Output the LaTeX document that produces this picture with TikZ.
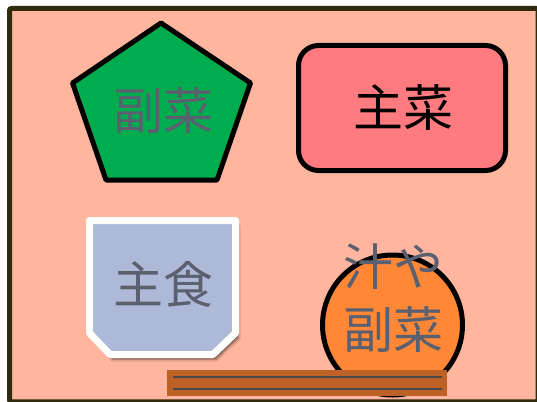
\documentclass[tikz,border=0pt]{standalone}
\usepackage{fontspec}
\newfontfamily\cjk{Noto Sans CJK JP}
\usetikzlibrary{shadows.blur}
\definecolor{bgfill}{HTML}{FFB59E}
\definecolor{framec}{HTML}{2F2B0C}
\definecolor{greenc}{HTML}{00AD4E}
\definecolor{redc}{HTML}{FF7B7F}
\definecolor{shieldc}{HTML}{ADB9D6}
\definecolor{orangec}{HTML}{FF8735}
\definecolor{barc}{HTML}{BD6127}
\definecolor{barline}{HTML}{484848}
\definecolor{graytext}{HTML}{5A6070}
\tikzset{
  outline/.style={draw=black, line width=5pt, line join=round},
  bigtext/.style={font=\cjk\fontsize{50}{63}\selectfont, inner sep=0pt, align=center},
}
\begin{document}
\begin{tikzpicture}[x=1pt,y=-1pt]
\useasboundingbox (0,0) rectangle (537,401);
\clip (0,0) rectangle (537,401);
% frame
\draw[draw=framec, fill=bgfill, line width=5pt, rounded corners=2pt] (9.5,8.5) rectangle (538,401.8);
% pentagon
\draw[outline, fill=greenc] (161,23) -- (250.5,83) -- (217,180) -- (106,180) -- (72.5,83) -- cycle;
\node[bigtext, text=graytext] (fuku1) at (163,111) {副菜};
% rounded rectangle
\draw[outline, fill=redc, rounded corners=20pt] (298.5,45.5) rectangle (505.5,170.5);
\node[bigtext, text=black] (shu1) at (403,107) {主菜};
% shield
\draw[draw=white, fill=shieldc, line width=7pt, line join=round,
      blur shadow={shadow xshift=3pt, shadow yshift=-5pt, shadow blur steps=6, shadow opacity=50}]
  (89.5,220.5) -- (235.5,220.5) -- (235.5,333) -- (213,354.5) -- (110,354.5) -- (89.5,333) -- cycle;
\node[bigtext, text=graytext] (shushoku) at (163,284) {主食};
% circle
\draw[outline, fill=orangec] (392.5,325) circle (70);
\node[bigtext, text=graytext] (shiru) at (393,298.5) {汁や\\副菜};
% bar
\fill[barc] (167,370) rectangle (447,396);
\draw[barline, line width=2.5pt] (173,377) -- (442,377);
\draw[barline, line width=2.5pt] (173,389) -- (442,389);
\end{tikzpicture}
\end{document}
